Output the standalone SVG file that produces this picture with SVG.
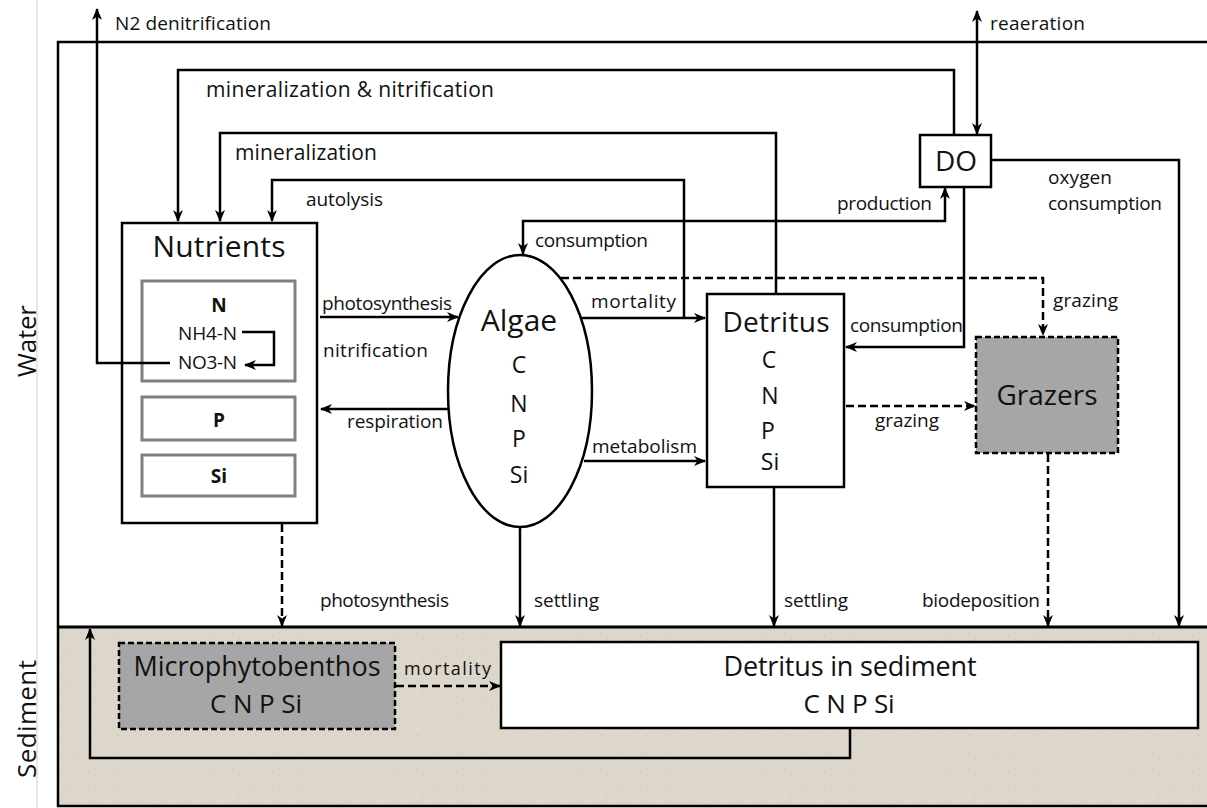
<svg xmlns="http://www.w3.org/2000/svg" width="1207" height="808" viewBox="0 0 1207 808">
<defs>
<marker id="ah" viewBox="0 0 12 10" refX="11" refY="5" markerWidth="12" markerHeight="10" markerUnits="userSpaceOnUse" orient="auto-start-reverse">
<path d="M0,0 L12,5 L0,10 L3.5,5 Z" fill="#000"/>
</marker>
<pattern id="sand" x="0" y="0" width="23" height="17" patternUnits="userSpaceOnUse">
<rect width="23" height="17" fill="#ddd6ca"/>
<circle cx="3" cy="4" r="0.7" fill="#c9c0b2"/>
<circle cx="14" cy="2" r="0.6" fill="#f0ebe3"/>
<circle cx="9" cy="11" r="0.7" fill="#cbc2b4"/>
<circle cx="19" cy="13" r="0.6" fill="#efe9e0"/>
<circle cx="20" cy="6" r="0.5" fill="#c6bdaf"/>
<circle cx="5" cy="15" r="0.5" fill="#ece6dc"/>
</pattern>
<style>
.ln{fill:none;stroke:#000;stroke-width:2.5}
.dl{fill:none;stroke:#000;stroke-width:2.5;stroke-dasharray:8 4}
.bx{fill:#fff;stroke:#000;stroke-width:2.5}
.sub{fill:#fff;stroke:#808080;stroke-width:3}
.gb{fill:#a6a6a6;stroke:#000;stroke-width:2.5;stroke-dasharray:6 3}
text{font-family:"Open Sans","Liberation Sans",sans-serif;fill:#111}
.lb{font-size:19px}
.lg{font-size:21px}
.tt{font-size:28px;text-anchor:middle}
.el{font-size:23px;text-anchor:middle}
.sm{font-size:19px}
.bd{font-size:19px;font-weight:bold;text-anchor:middle}
.side{font-size:26px;text-anchor:middle}
</style>
</defs>
<rect x="0" y="0" width="1207" height="808" fill="#fff"/>
<line x1="37" y1="0" x2="37" y2="808" stroke="#cfcfcf" stroke-width="1"/>
<g id="sediment-area">
<rect x="58" y="627" width="1149" height="180" fill="url(#sand)"/>
</g>
<g id="frame">
<path class="ln" d="M1207,42 L58,42 L58,806 L1207,806"/>
<line x1="58" y1="627" x2="1207" y2="627" stroke="#000" stroke-width="3"/>
</g>
<text class="side" transform="translate(36,341) rotate(-90)" textLength="72">Water</text>
<text class="side" transform="translate(36,719) rotate(-90)" textLength="118">Sediment</text>

<g id="nutrients">
<rect class="bx" x="122" y="223" width="195" height="300"/>
<text class="tt" x="219" y="257" style="font-size:30px" textLength="133">Nutrients</text>
<rect class="sub" x="142" y="281" width="153" height="100"/>
<text class="bd" x="219" y="312">N</text>
<text class="sm" x="178" y="340" textLength="59">NH4-N</text>
<text class="sm" x="178" y="369" textLength="59">NO3-N</text>
<rect class="sub" x="142" y="397" width="153" height="43"/>
<text class="bd" x="219" y="427">P</text>
<rect class="sub" x="142" y="455" width="153" height="41"/>
<text class="bd" x="219" y="483">Si</text>
</g>

<g id="algae">
<ellipse cx="520" cy="391" rx="72" ry="136" fill="#fff" stroke="#000" stroke-width="2.5"/>
<text class="tt" x="519" y="331" style="font-size:30px">Algae</text>
<text class="el" x="519" y="373">C</text>
<text class="el" x="519" y="412">N</text>
<text class="el" x="519" y="447">P</text>
<text class="el" x="519" y="483">Si</text>
</g>

<g id="detritus">
<rect class="bx" x="707" y="294" width="137" height="193"/>
<text class="tt" x="776" y="332" textLength="107">Detritus</text>
<text class="el" x="769" y="368">C</text>
<text class="el" x="770" y="404">N</text>
<text class="el" x="768" y="439">P</text>
<text class="el" x="770" y="470">Si</text>
</g>

<g id="do">
<rect class="bx" x="920" y="135" width="71" height="52"/>
<text class="tt" x="956" y="171">DO</text>
</g>

<g id="grazers">
<rect class="gb" x="976" y="337" width="142" height="116"/>
<text class="tt" x="1047" y="405" textLength="101">Grazers</text>
</g>

<g id="microphytobenthos">
<rect class="gb" x="119" y="643" width="276" height="86"/>
<text class="tt" x="257" y="676" style="font-size:27px" textLength="247">Microphytobenthos</text>
<text class="tt" x="256" y="713" style="font-size:26px" textLength="92">C N P Si</text>
</g>

<g id="detritus-sediment">
<rect class="bx" x="501" y="642" width="697" height="86" stroke-width="3"/>
<text class="tt" x="850" y="676" style="font-size:27px" textLength="253">Detritus in sediment</text>
<text class="tt" x="849" y="713" style="font-size:26px" textLength="91">C N P Si</text>
</g>

<g id="connectors">
<path class="ln" d="M170,363 L97,363 L97,9" marker-end="url(#ah)"/>
<path class="ln" d="M977,11 L977,134" marker-start="url(#ah)" marker-end="url(#ah)"/>
<path class="ln" d="M954,135 L954,70 L178,70 L178,221" marker-end="url(#ah)"/>
<path class="ln" d="M776,294 L776,133 L220,133 L220,221" marker-end="url(#ah)"/>
<path class="ln" d="M684,318 L684,180 L272,180 L272,221" marker-end="url(#ah)"/>
<path class="ln" d="M523,254 L523,221 L945,221 L945,188" marker-start="url(#ah)" marker-end="url(#ah)"/>
<path class="ln" d="M991,160 L1179,160 L1179,626" marker-end="url(#ah)"/>
<path class="ln" d="M964,187 L964,347 L846,347" marker-end="url(#ah)"/>
<path class="ln" d="M242,332 L274,332 L274,365 L245,365" stroke-width="3" marker-end="url(#ah)"/>
<path class="ln" d="M320,317 L458,317" marker-end="url(#ah)"/>
<path class="ln" d="M448,409 L321,409" marker-end="url(#ah)"/>
<path class="ln" d="M582,318 L705,318" marker-end="url(#ah)"/>
<path class="ln" d="M584,461 L705,461" marker-end="url(#ah)"/>
<path class="dl" d="M561,278 L1043,278 L1043,335" marker-end="url(#ah)"/>
<path class="dl" d="M846,406 L975,406" marker-end="url(#ah)"/>
<path class="dl" d="M1048,454 L1048,626" marker-end="url(#ah)"/>
<path class="ln" d="M774,487 L774,626" marker-end="url(#ah)"/>
<path class="ln" d="M520,527 L520,626" marker-end="url(#ah)"/>
<path class="dl" d="M282,524 L282,626" marker-end="url(#ah)"/>
<path class="dl" d="M396,686 L500,686" marker-end="url(#ah)"/>
<path class="ln" d="M850,729 L850,758 L90,758 L90,629" marker-end="url(#ah)"/>
</g>

<g id="labels">
<text class="lb" x="115" y="30" textLength="156">N2 denitrification</text>
<text class="lb" x="990" y="30" textLength="95">reaeration</text>
<text class="lg" x="206" y="97" textLength="288">mineralization &amp; nitrification</text>
<text class="lg" x="235" y="160" textLength="142">mineralization</text>
<text class="lb" x="306" y="206" textLength="77">autolysis</text>
<text class="lb" x="837" y="210" textLength="95">production</text>
<text class="lb" x="535" y="247" textLength="113">consumption</text>
<text class="lb" x="1048" y="184" textLength="64">oxygen</text>
<text class="lb" x="1048" y="210" textLength="114">consumption</text>
<text class="lb" x="322" y="310" textLength="130">photosynthesis</text>
<text class="lb" x="323" y="357" textLength="105">nitrification</text>
<text class="lb" x="347" y="428" textLength="96">respiration</text>
<text class="lb" x="591" y="308" textLength="85">mortality</text>
<text class="lb" x="592" y="453" textLength="105">metabolism</text>
<text class="lb" x="1053" y="307" textLength="65">grazing</text>
<text class="lb" x="850" y="332" textLength="113">consumption</text>
<text class="lb" x="875" y="427" textLength="64">grazing</text>
<text class="lb" x="320" y="607" textLength="129">photosynthesis</text>
<text class="lb" x="534" y="607" textLength="65">settling</text>
<text class="lb" x="784" y="607" textLength="64">settling</text>
<text class="lb" x="922" y="607" textLength="118">biodeposition</text>
<text class="lb" x="404" y="675" style="font-size:18px" textLength="87">mortality</text>
</g>
</svg>
